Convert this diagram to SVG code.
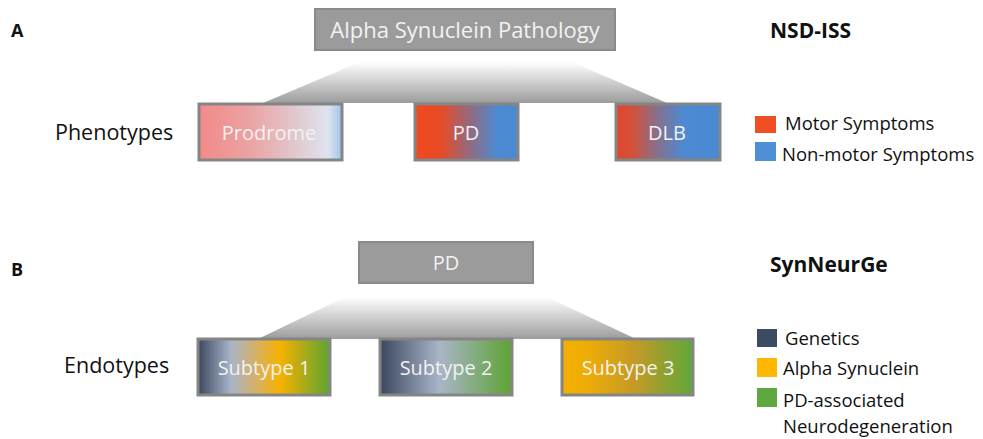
<svg xmlns="http://www.w3.org/2000/svg" width="983" height="439" viewBox="0 0 983 439">
<defs>
<linearGradient id="trap" x1="0" y1="0" x2="0" y2="1">
<stop offset="0" stop-color="#ffffff"/>
<stop offset="1" stop-color="#9c9c9c"/>
</linearGradient>
<linearGradient id="gProd" x1="0" y1="0" x2="1" y2="0">
<stop offset="0" stop-color="#f28a88"/>
<stop offset="0.35" stop-color="#eba2a2"/>
<stop offset="0.7" stop-color="#e0cbd2"/>
<stop offset="0.9" stop-color="#dfe4ef"/>
<stop offset="1" stop-color="#9fc4ea"/>
</linearGradient>
<linearGradient id="gPD" x1="0" y1="0" x2="1" y2="0">
<stop offset="0" stop-color="#f24a1e"/>
<stop offset="0.25" stop-color="#e84a26"/>
<stop offset="0.55" stop-color="#8e6c86"/>
<stop offset="0.8" stop-color="#4c8bd2"/>
<stop offset="1" stop-color="#4a8ad4"/>
</linearGradient>
<linearGradient id="gDLB" x1="0" y1="0" x2="1" y2="0">
<stop offset="0" stop-color="#e0472c"/>
<stop offset="0.15" stop-color="#d65038"/>
<stop offset="0.4" stop-color="#86708e"/>
<stop offset="0.65" stop-color="#4c8ad2"/>
<stop offset="1" stop-color="#4a8ad4"/>
</linearGradient>
<linearGradient id="gS1" x1="0" y1="0" x2="1" y2="0">
<stop offset="0" stop-color="#3a475e"/>
<stop offset="0.25" stop-color="#a9b5c9"/>
<stop offset="0.45" stop-color="#d8b060"/>
<stop offset="0.62" stop-color="#f6b200"/>
<stop offset="1" stop-color="#5da332"/>
</linearGradient>
<linearGradient id="gS2" x1="0" y1="0" x2="1" y2="0">
<stop offset="0" stop-color="#3a475e"/>
<stop offset="0.45" stop-color="#a9b5c9"/>
<stop offset="1" stop-color="#5da332"/>
</linearGradient>
<linearGradient id="gS3" x1="0" y1="0" x2="1" y2="0">
<stop offset="0" stop-color="#f4b000"/>
<stop offset="0.2" stop-color="#eeac08"/>
<stop offset="0.55" stop-color="#c49a26"/>
<stop offset="1" stop-color="#5ea83a"/>
</linearGradient>
</defs>
<style>
text{font-family:"Open Sans","Liberation Sans",sans-serif}
.gbox{fill:#9b9b9b;stroke:#8a8a8a;stroke-width:2}
.cbox{stroke:#858585;stroke-width:3}
.wt{fill:#f2f2f2;font-size:20px;text-anchor:middle}
.lbl{fill:#111;font-size:21.5px}
.leg{fill:#111;font-size:18.5px}
.hd{fill:#111;font-size:18px;font-weight:bold}
.hd2{fill:#111;font-size:21px;font-weight:bold}
</style>
<rect width="983" height="439" fill="#ffffff"/>

<text class="hd" x="11" y="37">A</text>
<text class="hd" x="11" y="276">B</text>
<text class="hd2" x="770" y="38">NSD-ISS</text>
<text class="hd2" x="770" y="272">SynNeurGe</text>
<text class="lbl" x="55" y="140">Phenotypes</text>
<text class="lbl" x="64" y="373">Endotypes</text>

<g id="connectors">
<polygon points="360,62 572,62 667,103 263,103" fill="url(#trap)"/>
<polygon points="345,297 547,297 636,339 258,339" fill="url(#trap)"/>
</g>

<g id="asyn">
<rect class="gbox" x="315" y="9" width="300" height="41"/>
<text class="wt" x="465" y="38" style="font-size:22px">Alpha Synuclein Pathology</text>
</g>
<g id="prodrome">
<rect class="cbox" x="199" y="104" width="143" height="56" fill="url(#gProd)"/>
<text class="wt" x="269" y="140">Prodrome</text>
</g>
<g id="pd-a">
<rect class="cbox" x="415" y="104" width="103" height="56" fill="url(#gPD)"/>
<text class="wt" x="466" y="140">PD</text>
</g>
<g id="dlb">
<rect class="cbox" x="616" y="104" width="104" height="56" fill="url(#gDLB)"/>
<text class="wt" x="667" y="140">DLB</text>
</g>

<g id="pd-b">
<rect class="gbox" x="359" y="242" width="174" height="41"/>
<text class="wt" x="446" y="270">PD</text>
</g>
<g id="subtype1">
<rect class="cbox" x="198" y="339" width="132" height="56" fill="url(#gS1)"/>
<text class="wt" x="264" y="375">Subtype 1</text>
</g>
<g id="subtype2">
<rect class="cbox" x="380" y="339" width="132" height="56" fill="url(#gS2)"/>
<text class="wt" x="446" y="375">Subtype 2</text>
</g>
<g id="subtype3">
<rect class="cbox" x="562" y="339" width="131" height="56" fill="url(#gS3)"/>
<text class="wt" x="628" y="375">Subtype 3</text>
</g>

<g id="legendA">
<rect x="755" y="116" width="21" height="17" fill="#f04e23"/>
<text class="leg" x="785" y="130">Motor Symptoms</text>
<rect x="755" y="142" width="21" height="19" fill="#4f8fd6"/>
<text class="leg" x="782" y="161">Non-motor Symptoms</text>
</g>
<g id="legendB">
<rect x="757" y="329" width="20" height="18" fill="#3c4a62"/>
<text class="leg" x="785" y="345">Genetics</text>
<rect x="757" y="358" width="20" height="19" fill="#ffb800"/>
<text class="leg" x="783" y="375">Alpha Synuclein</text>
<rect x="757" y="388" width="20" height="19" fill="#5fa840"/>
<text class="leg" x="783" y="407">PD-associated</text>
<text class="leg" x="783" y="433">Neurodegeneration</text>
</g>
</svg>
